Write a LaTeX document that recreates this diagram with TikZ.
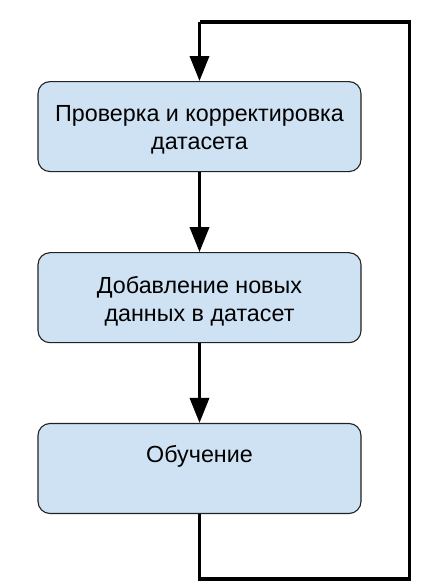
\documentclass[tikz,border=0pt]{standalone}
\usepackage{fontspec}
\setmainfont{Liberation Sans}
\usetikzlibrary{arrows.meta}
\definecolor{boxfill}{HTML}{CFE2F3}
\definecolor{boxline}{HTML}{222222}
\tikzset{
  stepbox/.style={draw=boxline, line width=1.1pt, fill=boxfill, rounded corners=12pt,
    minimum width=323pt, minimum height=90pt, inner sep=0pt},
  steptext/.style={inner sep=0pt, align=center, font=\fontsize{23.3}{28.4}\selectfont},
  flow/.style={line width=3.5pt, -{Triangle[length=25pt,width=19pt]}},
  loopline/.style={line width=3.5pt}
}
\begin{document}
\begin{tikzpicture}[x=1pt,y=1pt]
\useasboundingbox (0,0) rectangle (421,585);
\node[stepbox] (b1) at (199.5,458.4) {};
\node[stepbox] (b2) at (199.5,287.3) {};
\node[stepbox] (b3) at (199.5,116.5) {};
\node[steptext] (t1) at ([yshift=-3.5pt]b1.center) {Проверка и корректировка\\датасета};
\node[steptext] (t2) at ([yshift=-3.5pt]b2.center) {Добавление новых\\данных в датасет};
\node[steptext] (t3) at ([yshift=-3.5pt]b3.center) {Обучение\\\strut};
\coordinate (c1) at (199.5,6);
\coordinate (c2) at (409.5,6);
\coordinate (c3) at (409.5,563);
\coordinate (c4) at (199.5,563);
\draw[flow] (b1.south) -- (b2.north);
\draw[flow] (b2.south) -- (b3.north);
\draw[loopline] (b3.south) -- (c1) -- (c2) -- (c3) -- (c4);
\draw[flow] (c4) -- (b1.north);
\end{tikzpicture}
\end{document}
